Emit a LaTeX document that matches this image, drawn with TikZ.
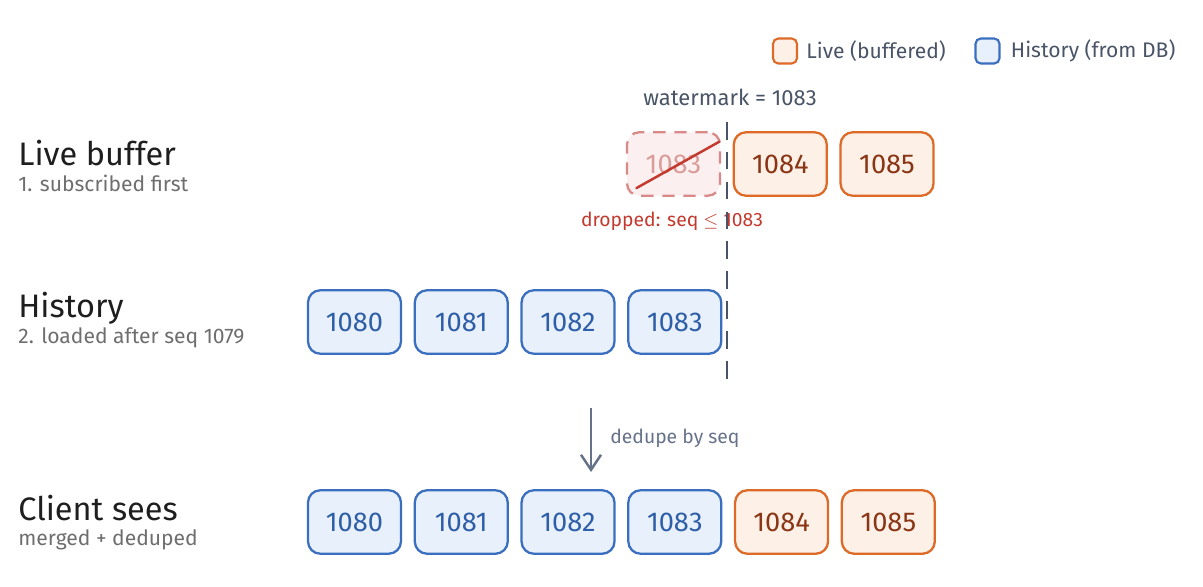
\documentclass[tikz,border=0pt]{standalone}
\usepackage{fontspec}
\setmainfont{Fira Sans}
\usepackage{tikz}
\usetikzlibrary{positioning,arrows.meta}
\definecolor{histline}{HTML}{3A6EBF}
\definecolor{histfill}{HTML}{E8F0FB}
\definecolor{histtext}{HTML}{2E5EA8}
\definecolor{liveline}{HTML}{DD6A27}
\definecolor{livefill}{HTML}{FDF0E6}
\definecolor{livetext}{HTML}{8A3516}
\definecolor{dropline}{HTML}{D98A88}
\definecolor{dropfill}{HTML}{FBEFEF}
\definecolor{droptext}{HTML}{DA9C9A}
\definecolor{dropred}{HTML}{C4392D}
\definecolor{inkdark}{HTML}{1E1E1E}
\definecolor{inkgray}{HTML}{6E6E6E}
\definecolor{slate}{HTML}{495466}
\definecolor{arrowgray}{HTML}{66718A}

\begin{document}
\begin{tikzpicture}[
  x=0.02cm, y=-0.02cm,
  msg/.style={draw, rounded corners=7pt, line width=1.3pt, minimum width=1.86cm,
              minimum height=1.27cm, inner sep=0pt, font=\fontsize{15.5}{18}\selectfont},
  hist/.style={msg, draw=histline, fill=histfill, text=histtext},
  live/.style={msg, draw=liveline, fill=livefill, text=livetext},
  gone/.style={msg, draw=dropline, dashed, dash pattern=on 7pt off 5pt,
               fill=dropfill, text=droptext},
  key/.style={draw, rounded corners=3pt, line width=1.2pt, minimum width=0.48cm,
              minimum height=0.5cm, inner sep=0pt},
  keytext/.style={anchor=west, font=\fontsize{12}{14}\selectfont, text=slate, inner sep=0pt},
  rowname/.style={anchor=west, font=\fontsize{18.5}{21}\selectfont, text=inkdark, inner sep=0pt},
  rowsub/.style={anchor=west, font=\fontsize{12}{14}\selectfont, text=inkgray, inner sep=0pt},
  node distance=0.23cm,
]
\useasboundingbox (0,0) rectangle (1203,587);

%% Legend
\node[key, draw=liveline, fill=livefill] (klive) at (785,51) {};
\node[keytext, right=0.16cm of klive] (tlive) {Live (buffered)};
\node[key, draw=histline, fill=histfill] (khist) at (987.5,51) {};
\node[keytext, right=0.2cm of khist] (thist) {History (from DB)};

%% Row labels
\node[rowname] (lbuf) at (18,153) {Live buffer};
\node[rowsub]  (sbuf) at (18,183) {1. subscribed first};
\node[rowname] (lhis) at (18,308) {History};
\node[rowsub]  (shis) at (18,338) {2. loaded after seq 1079};
\node[rowname] (lcli) at (18,508) {Client sees};
\node[rowsub]  (scli) at (18,540) {merged + deduped};

%% Live buffer row
\node[gone] (drop) at (673.5,164) {1083};
\node[live, right=of drop] (b84) {1084};
\node[live, right=of b84]  (b85) {1085};
\draw[dropred, line width=1.4pt, line cap=round]
  ([shift={(6pt,5pt)}]drop.south west) -- ([shift={(-1pt,-6pt)}]drop.north east);
\node[text=dropred, font=\fontsize{11}{13}\selectfont] (dnote) at (672,221) {dropped: seq $\leq$ 1083};

%% History row
\node[hist] (h80) at (354.5,322) {1080};
\node[hist, right=of h80] (h81) {1081};
\node[hist, right=of h81] (h82) {1082};
\node[hist, right=of h82] (h83) {1083};

%% Watermark
\node[text=slate, font=\fontsize{12.5}{15}\selectfont] (wm) at (730,97) {watermark = 1083};
\coordinate (wtop) at (727,122);
\coordinate (wbot) at (727,390);
\draw[slate, line width=1.4pt, dash pattern=on 10pt off 7pt] (wtop) -- (wbot);

%% Merge step
\coordinate (dtop) at (591,408);
\coordinate (dbot) at (591,472);
\draw[arrowgray, line width=1.4pt, -{Straight Barb[length=3mm,width=4mm]}] (dtop) -- (dbot);
\node[text=arrowgray, anchor=west, inner sep=0pt, font=\fontsize{11}{13}\selectfont] (dlbl) at (610,438) {dedupe by seq};

%% Client row
\node[hist] (c80) at (354.5,522) {1080};
\node[hist, right=of c80] (c81) {1081};
\node[hist, right=of c81] (c82) {1082};
\node[hist, right=of c82] (c83) {1083};
\node[live, right=of c83] (c84) {1084};
\node[live, right=of c84] (c85) {1085};

\end{tikzpicture}
\end{document}
